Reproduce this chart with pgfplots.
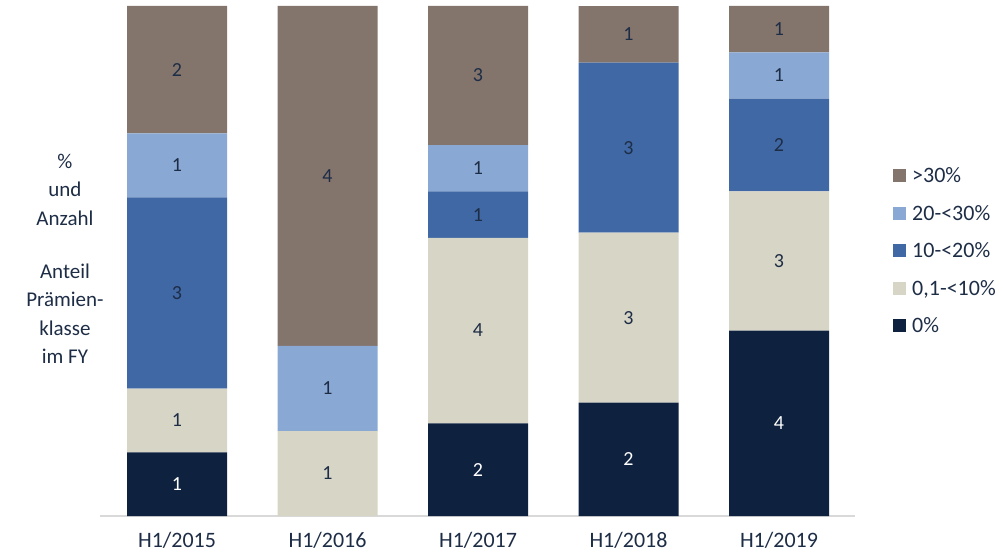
\documentclass[border=0pt]{standalone}
\usepackage{fontspec}
\setmainfont{Carlito}
\usepackage{pgfplots}
\pgfplotsset{compat=1.18}
\definecolor{cNull}{RGB}{14,34,64}
\definecolor{cBeige}{RGB}{215,213,198}
\definecolor{cMid}{RGB}{64,104,165}
\definecolor{cLight}{RGB}{138,168,212}
\definecolor{cBrown}{RGB}{131,116,108}
\definecolor{txt}{RGB}{30,45,70}
\definecolor{axgrey}{RGB}{217,217,217}

\pgfplotsset{frame/.style={
  at={(0,0)}, anchor=south west,
  scale only axis, width=755pt, height=510pt,
  xmin=-0.512, xmax=4.505, ymin=0, ymax=1}}

\begin{document}
\begin{tikzpicture}
\useasboundingbox (-100pt,-39pt) rectangle (903pt,516pt);
\begin{axis}[
  frame,
  ybar stacked, bar width=100pt,
  axis x line*=bottom, axis y line=none,
  x axis line style={draw=axgrey, line width=1.2pt, -},
  xtick={0,1,2,3,4},
  xticklabels={H1/2015,H1/2016,H1/2017,H1/2018,H1/2019},
  major tick length=0pt,
  xticklabel style={font=\fontsize{22}{26}\selectfont, text=txt, yshift=-15pt,
    inner ysep=1pt},
  clip=false,
  legend style={draw=none, fill=none, at={(1,0.52)}, anchor=west, xshift=38pt,
    font=\fontsize{22}{26}\selectfont, text=txt, row sep=17pt, inner sep=0pt,
    cells={anchor=west}},
  legend image code/.code={\fill[#1] (0pt,-6.5pt) rectangle (13pt,6.5pt);
    \path (17pt,0pt);},
  reverse legend,
]
\addplot+[fill=cNull, draw=none] coordinates {
  (0,0.125) (1,0) (2,0.18182) (3,0.22222) (4,0.36364)};
\addplot+[fill=cBeige, draw=none] coordinates {
  (0,0.125) (1,0.16667) (2,0.36364) (3,0.33333) (4,0.27273)};
\addplot+[fill=cMid, draw=none] coordinates {
  (0,0.375) (1,0) (2,0.09091) (3,0.33333) (4,0.18182)};
\addplot+[fill=cLight, draw=none] coordinates {
  (0,0.125) (1,0.16667) (2,0.09091) (3,0) (4,0.09091)};
\addplot+[fill=cBrown, draw=none] coordinates {
  (0,0.25) (1,0.66667) (2,0.27273) (3,0.11111) (4,0.09091)};
\legend{0\%,{0,1-<10\%},10-<20\%,20-<30\%,>30\%}
\node[align=center, font=\fontsize{21}{28.5}\selectfont, text=txt]
  at (rel axis cs:-0.0464,0.504)
  {\%\\und\\Anzahl\\[24.5pt]Anteil\\Prämien-\\klasse\\im FY};
\end{axis}
% segment counts, placed at the middle of each segment
\begin{axis}[frame, hide axis, clip=false,
  point meta=explicit symbolic,
  nodes near coords,
  every node near coord/.append style={font=\fontsize{20}{24}\selectfont,
    anchor=center, inner sep=0pt}]
\addplot[draw=none, mark=none, nodes near coords style={text=white}] coordinates {
  (0,0.0625) [1] (2,0.09091) [2] (3,0.11111) [2] (4,0.18182) [4]};
\addplot[draw=none, mark=none, nodes near coords style={text=txt}] coordinates {
  (0,0.1875) [1] (0,0.4375) [3] (0,0.6875) [1] (0,0.875) [2]
  (1,0.08333) [1] (1,0.25) [1] (1,0.66667) [4]
  (2,0.36364) [4] (2,0.59091) [1] (2,0.68182) [1] (2,0.86364) [3]
  (3,0.38889) [3] (3,0.72222) [3] (3,0.94444) [1]
  (4,0.5) [3] (4,0.72727) [2] (4,0.86364) [1] (4,0.95455) [1]};
\end{axis}
\end{tikzpicture}
\end{document}
